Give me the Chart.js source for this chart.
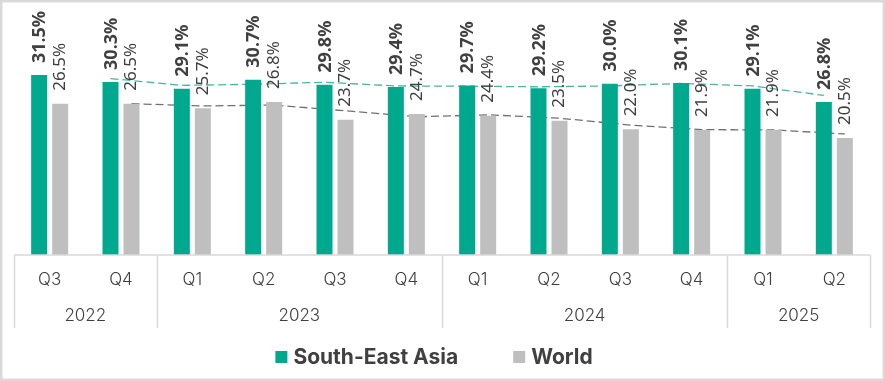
<!DOCTYPE html>
<html>
<head>
<meta charset="utf-8">
<script src="https://cdn.jsdelivr.net/npm/chart.js@4.4.1/dist/chart.umd.min.js"></script>
<style>
    html, body { margin: 0; padding: 0; background: #fff; }
    #wrap { position: relative; width: 885px; height: 381px; }
</style>
</head>
<body>
<div id="wrap"><canvas id="shareChart" width="885" height="381"></canvas></div>
<script>
// Chart data
const quarters = ['Q3', 'Q4', 'Q1', 'Q2', 'Q3', 'Q4', 'Q1', 'Q2', 'Q3', 'Q4', 'Q1', 'Q2'];
const years = [
    { label: '2022', from: 0, to: 2 },
    { label: '2023', from: 2, to: 6 },
    { label: '2024', from: 6, to: 10 },
    { label: '2025', from: 10, to: 12 }
];
const seaValues = [31.5, 30.3, 29.1, 30.7, 29.8, 29.4, 29.7, 29.2, 30.0, 30.1, 29.1, 26.8];
const worldValues = [26.5, 26.5, 25.7, 26.8, 23.7, 24.7, 24.4, 23.5, 22.0, 21.9, 21.9, 20.5];

const GREEN = '#00a88e';
const GREY = '#bfbfbf';
const TEXT = '#404040';
const LINE = '#d9d9d9';

// 2-period moving average trendline (as in the source chart)
function movingAverage(values) {
    return values.map((v, i) => i === 0 ? null : (values[i - 1] + v) / 2);
}

// Shift each trendline onto the centre of its own bar series
const trendShift = {
    id: 'trendShift',
    beforeDatasetDraw(chart, args) {
        if (args.index < 2) return;
        const bar = chart.getDatasetMeta(args.index - 2).data[0];
        const dx = bar.x - chart.scales.x.getPixelForValue(0);
        chart.ctx.save();
        chart.ctx.translate(dx, 0);
    },
    afterDatasetDraw(chart, args) {
        if (args.index < 2) return;
        chart.ctx.restore();
    }
};

// Rotated value labels above the bars
const valueLabels = {
    id: 'valueLabels',
    afterDatasetsDraw(chart) {
        const ctx = chart.ctx;
        [0, 1].forEach(di => {
            const meta = chart.getDatasetMeta(di);
            const vals = chart.data.datasets[di].data;
            meta.data.forEach((bar, i) => {
                ctx.save();
                ctx.translate(bar.x + (di === 0 ? 1 : 0), bar.y - (di === 0 ? 12 : 13));
                ctx.rotate(-Math.PI / 2);
                ctx.font = di === 0 ? 'bold 18px "Noto Sans"' : '17px "Noto Sans"';
                ctx.fillStyle = TEXT;
                ctx.textAlign = 'left';
                ctx.textBaseline = 'middle';
                ctx.fillText(vals[i].toFixed(1) + '%', 0, 0);
                ctx.restore();
            });
        });
    }
};

// Two level category axis, legend and outer frame
const axisAndFrame = {
    id: 'axisAndFrame',
    afterDraw(chart) {
        const ctx = chart.ctx;
        const area = chart.chartArea;
        const x = chart.scales.x;
        const step = (area.right - area.left) / quarters.length;
        const base = area.bottom;

        ctx.save();
        ctx.strokeStyle = LINE;
        ctx.lineWidth = 1.5;
        ctx.beginPath();
        ctx.moveTo(area.left, base);
        ctx.lineTo(area.right, base);
        years.forEach(y => {
            [y.from, y.to].forEach(k => {
                const px = Math.round(area.left + k * step) + 0.5;
                ctx.moveTo(px, base);
                ctx.lineTo(px, base + 73);
            });
        });
        ctx.stroke();

        ctx.fillStyle = TEXT;
        ctx.textAlign = 'center';
        ctx.textBaseline = 'middle';
        ctx.font = '300 17px Inter';
        quarters.forEach((q, i) => {
            ctx.fillText(q, x.getPixelForValue(i), base + 25);
        });
        years.forEach(y => {
            const mid = area.left + (y.from + y.to) / 2 * step;
            ctx.fillText(y.label, mid, base + 61);
        });

        // legend
        ctx.font = 'bold 21px Inter';
        const items = [
            { text: 'South-East Asia', color: GREEN },
            { text: 'World', color: GREY }
        ];
        const widths = items.map(it => ctx.measureText(it.text).width);
        const total = 12 + 6 + widths[0] + 55 + 12 + 6 + widths[1];
        let cx = 434 - total / 2;
        const ly = 357;
        items.forEach((it, i) => {
            ctx.fillStyle = it.color;
            ctx.fillRect(cx, ly - 6, 12, 12);
            cx += 18;
            ctx.fillStyle = TEXT;
            ctx.textAlign = 'left';
            ctx.fillText(it.text, cx, ly + 1);
            cx += widths[i] + 55;
        });

        // outer frame
        ctx.strokeStyle = LINE;
        ctx.lineWidth = 3;
        ctx.strokeRect(1, 1, chart.width - 2, chart.height - 2);
        ctx.restore();
    }
};

function initShareChart() {
    const ctx = document.getElementById('shareChart').getContext('2d');
    new Chart(ctx, {
        type: 'bar',
        data: {
            labels: quarters,
            datasets: [{
                label: 'South-East Asia',
                data: seaValues,
                backgroundColor: GREEN,
                categoryPercentage: 0.589,
                barPercentage: 0.762
            }, {
                label: 'World',
                data: worldValues,
                backgroundColor: GREY,
                categoryPercentage: 0.589,
                barPercentage: 0.762
            }, {
                type: 'line',
                label: 'SEA trend',
                data: movingAverage(seaValues),
                borderColor: '#4cb3a0',
                borderWidth: 1.3,
                borderDash: [8, 4],
                pointRadius: 0,
                fill: false
            }, {
                type: 'line',
                label: 'World trend',
                data: movingAverage(worldValues),
                borderColor: '#707070',
                borderWidth: 1.3,
                borderDash: [8, 4],
                pointRadius: 0,
                fill: false
            }]
        },
        options: {
            responsive: false,
            animation: false,
            layout: { padding: { left: 14, right: 15, top: 10, bottom: 126 } },
            plugins: {
                legend: { display: false },
                tooltip: { enabled: false }
            },
            scales: {
                x: { display: false, offset: true },
                y: { display: false, min: 0, max: 42.9 }
            }
        },
        plugins: [trendShift, valueLabels, axisAndFrame]
    });
}

document.addEventListener('DOMContentLoaded', initShareChart);
</script>
</body>
</html>
